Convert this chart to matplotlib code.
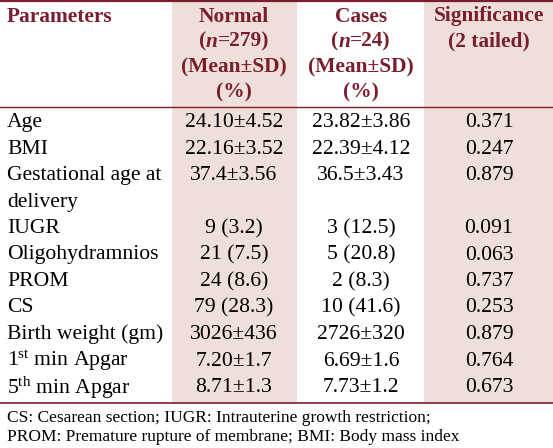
import matplotlib.pyplot as plt
from matplotlib.patches import Rectangle

plt.rcParams['font.family'] = ['Liberation Serif', 'DejaVu Serif']
plt.rcParams['mathtext.fontset'] = 'custom'
plt.rcParams['mathtext.rm'] = 'Liberation Serif'
plt.rcParams['mathtext.it'] = 'Liberation Serif:italic'
plt.rcParams['mathtext.bf'] = 'Liberation Serif:bold'

MAROON = '#7a1e2e'
SHADE = '#eedfdb'
FS = 15.6
HFS = 15.4

params = ["Age", "BMI", "Gestational age at\ndelivery", "IUGR", "Oligohydramnios",
          "PROM", "CS", "Birth weight (gm)", r"1$^{\mathrm{st}}$ min Apgar",
          r"5$^{\mathrm{th}}$ min Apgar"]
normal = ["24.10±4.52", "22.16±3.52", "37.4±3.56", "9 (3.2)", "21 (7.5)",
          "24 (8.6)", "79 (28.3)", "3026±436", "7.20±1.7", "8.71±1.3"]
cases = ["23.82±3.86", "22.39±4.12", "36.5±3.43", "3 (12.5)", "5 (20.8)",
         "2 (8.3)", "10 (41.6)", "2726±320", "6.69±1.6", "7.73±1.2"]
sig = ["0.371", "0.247", "0.879", "0.091", "0.063", "0.737", "0.253",
       "0.879", "0.764", "0.673"]

# header lines; the n=... line is drawn in three pieces (italic n)
headers = [["Parameters"],
           ["Normal", ("(", "n", "=279)"), "(Mean±SD)", "(%)"],
           ["Cases", ("(", "n", "=24)"), "(Mean±SD)", "(%)"],
           ["Significance", "(2 tailed)"]]
footnotes = ["CS: Cesarean section; IUGR: Intrauterine growth restriction;",
             "PROM: Premature rupture of membrane; BMI: Body mass index"]

fig = plt.figure(figsize=(5.53, 4.48), dpi=100)
ax = fig.add_axes([0, 0, 1, 1])
ax.set_xlim(0, 553)
ax.set_ylim(448, 0)
ax.axis('off')
rend = fig.canvas.get_renderer()

# shaded columns
ax.add_patch(Rectangle((172, 2), 125, 401, color=SHADE, lw=0))
ax.add_patch(Rectangle((424, 2), 129, 401, color=SHADE, lw=0))

# rules
ax.plot([0, 553], [1.5, 1.5], color=MAROON, lw=1.6)
ax.plot([0, 553], [107, 107], color=MAROON, lw=1.0)
ax.plot([0, 553], [403.5, 403.5], color=MAROON, lw=1.2)

col_x = [7, 234, 361, 489]
for i, lines in enumerate(headers):
    for j, s in enumerate(lines):
        yy = 16.5 + 25.3 * j
        if isinstance(s, tuple):
            styles = ['normal', 'italic', 'normal']
            texts = [ax.text(0, yy, part, ha='left', va='center', fontsize=HFS,
                             fontweight='bold', fontstyle=st, color=MAROON)
                     for part, st in zip(s, styles)]
            widths = [t.get_window_extent(rend).width for t in texts]
            x0 = col_x[i] - sum(widths) / 2
            for t, w in zip(texts, widths):
                t.set_x(x0)
                x0 += w
        else:
            ax.text(col_x[i], yy, s, ha='left' if i == 0 else 'center',
                    va='center', fontsize=HFS, fontweight='bold', color=MAROON)

y = 122.5
step = 26.5
for p, a, b, c in zip(params, normal, cases, sig):
    ax.text(col_x[0], y, p.split('\n')[0], ha='left', va='center', fontsize=FS)
    ax.text(col_x[1], y, a, ha='center', va='center', fontsize=FS)
    ax.text(col_x[2], y, b, ha='center', va='center', fontsize=FS)
    ax.text(col_x[3], y, c, ha='center', va='center', fontsize=FS)
    if '\n' in p:
        y += step
        ax.text(col_x[0], y, p.split('\n')[1], ha='left', va='center', fontsize=FS)
    y += step

for k, s in enumerate(footnotes):
    ax.text(col_x[0], 418.5 + 18.5 * k, s, ha='left', va='center', fontsize=12.5)

fig.savefig('out.png', dpi=100)
